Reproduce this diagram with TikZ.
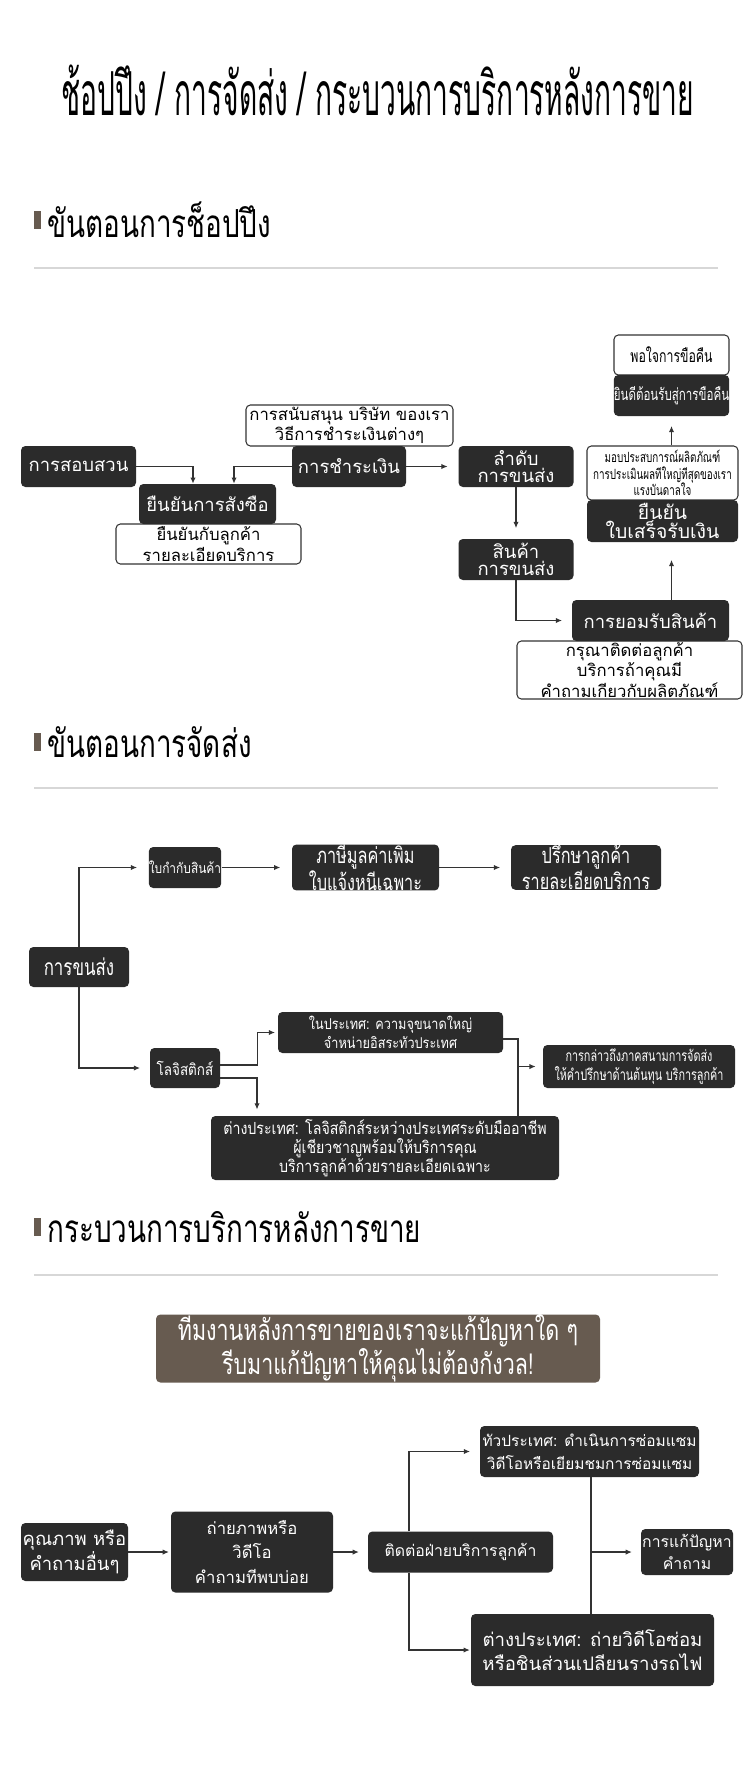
\documentclass[tikz,border=0pt]{standalone}
\usepackage{fontspec}
\usepackage{xcolor}
\usepackage{tikz}
\usetikzlibrary{arrows.meta,positioning,calc}
\newfontfamily\thai[Script=Thai]{Loma}
\newfontfamily\thaicn[Script=Thai,FakeStretch=0.85]{Loma}
\newfontfamily\thaitall[Script=Thai,FakeStretch=0.74]{Loma}
\newfontfamily\thainr[Script=Thai,FakeStretch=0.7]{Loma}
\newfontfamily\thaihead[Script=Thai,FakeStretch=0.72]{Loma}
\newfontfamily\thaititle[Script=Thai,FakeStretch=0.465]{Loma}
\newcommand{\fs}[2]{\fontsize{#1}{#2}\selectfont}
\definecolor{boxdark}{RGB}{43,43,43}
\definecolor{bannerbrown}{RGB}{103,91,80}
\definecolor{rulegray}{RGB}{215,215,215}
\definecolor{linedark}{RGB}{51,51,51}

\begin{document}
\begin{tikzpicture}[x=0.02cm, y=-0.02cm,
  darkbox/.style={fill=boxdark, text=white, rounded corners=2.5pt, align=center, inner sep=0pt},
  notebox/.style={draw=linedark, line width=0.6pt, fill=white, text=black, rounded corners=2.5pt, align=center, inner sep=0pt},
  wh/.style 2 args={minimum width=#1*0.02cm, minimum height=#2*0.02cm},
  arr/.style={-{Latex[length=3.5pt,width=3pt]}, draw=linedark, line width=0.6pt},
  link/.style={draw=linedark, line width=0.6pt},
  sechead/.style={anchor=west, inner sep=0pt, font=\thaihead\fs{22}{26}}]
  \useasboundingbox (0,0) rectangle (750,1780);
  \fill[white] (0,0) rectangle (750,1780);

  % ---- title ----
  \node[font=\thaititle\fs{34.5}{40}] (title) at (378,90) {ช้อปปึง / การจัดส่ง / กระบวนการบริการหลังการขาย};

  % ---- section 1: shopping steps ----
  \fill[bannerbrown] (34,211) rectangle (41,229);
  \node[sechead] (head1) at (47,220) {ขันตอนการช็อปปึง};
  \draw[rulegray, line width=0.8pt] (34,268) -- (718,268);

  \node[darkbox, wh={115}{41}, font=\thai\fs{10.5}{12}] (soubsuan) at (78.5,466.5) {การสอบสวน};
  \node[notebox, wh={185}{40}, font=\thai\fs{9.5}{9}] (yuenyannote) at (208.5,544) {ยืนยันกับลูกค้า\\รายละเอียดบริการ};
  \node[darkbox, wh={137}{40}, font=\thai\fs{10.5}{12}] (yuenyan) at (207.5,504) {ยืนยันการสังซือ};
  \node[notebox, wh={207}{41}, font=\thai\fs{9.5}{8}] (chamranote) at (349.5,425.5) {การสนับสนุน บริษัท ของเรา\\วิธีการชำระเงินต่างๆ};
  \node[darkbox, wh={114}{41}, font=\thai\fs{10.5}{12}] (chamra) at (349,466.5) {การชำระเงิน};
  \node[darkbox, wh={115}{41}, font=\thai\fs{10.5}{10}] (lamdap) at (516,466.5) {ลำดับ\\การขนส่ง};
  \node[darkbox, wh={115}{41}, font=\thai\fs{10.5}{10}] (sinka) at (516,559.5) {สินค้า\\การขนส่ง};
  \node[notebox, wh={225}{58}, font=\thai\fs{9.5}{8.5}] (yomrapnote) at (629.5,670) {กรุณาติดต่อลูกค้า\\บริการถ้าคุณมี\\คำถามเกียวกับผลิตภัณฑ์};
  \node[darkbox, wh={157}{41}, font=\thai\fs{10.5}{12}] (yomrap) at (650.5,620.5) {การยอมรับสินค้า};
  \node[notebox, wh={151}{54}, font=\thainr\fs{8}{9.6}] (bainote) at (662.5,473) {มอบประสบการณ์ผลิตภัณฑ์\\การประเมินผลทีใหญ่ทีสุดของเรา\\แรงบันดาลใจ};
  \node[darkbox, wh={151}{42}, font=\thai\fs{11}{8.5}] (bai) at (662.5,521) {ยืนยัน\\ใบเสร็จรับเงิน};
  \node[notebox, wh={115}{40}, font=\thainr\fs{10}{12}] (porjai) at (671.5,355) {พอใจการขือคืน};
  \node[darkbox, wh={115}{41}, font=\thainr\fs{9.4}{12}] (yindee) at (671.5,395.5) {ยินดีต้อนรับสู่การขือคืน};

  \draw[arr] (soubsuan.east) -| ($(yuenyan.north)+(-14.5,0)$);
  \draw[arr] (chamra.west) -| ($(yuenyan.north)+(26.5,0)$);
  \draw[arr, shorten >=6pt] (chamra) -- (lamdap);
  \draw[arr, shorten >=6pt] (lamdap) -- (sinka);
  \draw[arr, shorten >=5.5pt] (sinka.south) |- (yomrap.west);
  \draw[arr, shorten >=10pt] (yomrap.north -| yindee) -- (bai.south -| yindee);
  \draw[arr, shorten >=5.5pt] (bainote.north -| yindee) -- (yindee.south);

  % ---- section 2: delivery steps ----
  \fill[bannerbrown] (34,733) rectangle (41,751);
  \node[sechead] (head2) at (47,742) {ขันตอนการจัดส่ง};
  \draw[rulegray, line width=0.8pt] (34,788) -- (718,788);

  \node[darkbox, wh={70}{41}, font=\thaicn\fs{8}{10}] (kamkap) at (185,867.5) {ใบกำกับสินค้า};
  \node[darkbox, wh={147}{41}, font=\thaitall\fs{12.5}{10}] (phasi) at (365.5,867.5) {ภาษีมูลค่าเพิม\\ใบแจ้งหนีเฉพาะ};
  \node[darkbox, wh={150}{41}, font=\thaitall\fs{12.5}{10}] (preuksa) at (586,867.5) {ปรึกษาลูกค้า\\รายละเอียดบริการ};
  \node[darkbox, wh={100}{40}, font=\thaitall\fs{13}{14}] (khonsong) at (79,967) {การขนส่ง};
  \node[darkbox, wh={70}{40}, font=\thaicn\fs{9}{11}] (logistics) at (185,1068) {โลจิสติกส์};
  \node[darkbox, wh={225}{41}, font=\thaicn\fs{8.5}{11}] (naiprathet) at (390.5,1032.5) {ในประเทศ: ความจุขนาดใหญ่\\จำหน่ายอิสระทัวประเทศ};
  \node[darkbox, wh={348}{64}, font=\thaicn\fs{9.5}{11}] (tangprathet) at (385,1148) {ต่างประเทศ: โลจิสติกส์ระหว่างประเทศระดับมืออาชีพ\\ผู้เชียวชาญพร้อมให้บริการคุณ\\บริการลูกค้าด้วยรายละเอียดเฉพาะ};
  \node[darkbox, wh={192}{43}, font=\thainr\fs{8.8}{11}] (klao) at (639,1066.5) {การกล่าวถึงภาคสนามการจัดส่ง\\ให้คำปรึกษาด้านต้นทุน บริการลูกค้า};
  \coordinate (join2) at ($(tangprathet.north)+(133,0)$);

  \draw[arr, shorten >=6.5pt] (khonsong.north) |- (kamkap.west);
  \draw[arr, shorten >=5.5pt] (khonsong.south) |- (logistics.west);
  \draw[arr, shorten >=6.5pt] (kamkap) -- (phasi);
  \draw[arr, shorten >=6pt] (phasi) -- (preuksa);
  \draw[arr, shorten >=1.5pt] ($(logistics.east)+(0,-3)$) -- ++(37,0) |- (naiprathet.west);
  \draw[arr, shorten >=3.5pt] ($(logistics.east)+(0,10)$) -| ($(tangprathet.north)+(-128,0)$);
  \draw[link] ($(naiprathet.east)+(0,6.5)$) -| (join2);
  \draw[arr, shorten >=4pt] (klao.west -| join2) -- (klao.west);

  % ---- section 3: after-sales service ----
  \fill[bannerbrown] (34,1218) rectangle (41,1236);
  \node[sechead] (head3) at (47,1227) {กระบวนการบริการหลังการขาย};
  \draw[rulegray, line width=0.8pt] (34,1275) -- (718,1275);

  \node[fill=bannerbrown, text=white, rounded corners=2.5pt, inner sep=0pt, align=center, wh={444}{65}, font=\thaitall\fs{16.5}{15.5}] (banner) at (378,1348.5) {ทีมงานหลังการขายของเราจะแก้ปัญหาใด ๆ\\รีบมาแก้ปัญหาให้คุณไม่ต้องกังวล!};

  \node[darkbox, wh={107}{58}, font=\thai\fs{10.5}{12.5}] (khunnaphap) at (74.5,1552) {คุณภาพ หรือ\\คำถามอื่นๆ};
  \node[darkbox, wh={162}{81}, font=\thai\fs{9.5}{13.7}] (thaiphap) at (252,1552) {ถ่ายภาพหรือ\\วิดีโอ\\คำถามทีพบบ่อย};
  \node[darkbox, wh={185}{41}, font=\thai\fs{9}{11}] (tidtor) at (460.5,1552) {ติดต่อฝ่ายบริการลูกค้า};
  \node[darkbox, wh={219}{51}, font=\thai\fs{8.8}{13}] (thuaprathet) at (589.5,1451.5) {ทัวประเทศ: ดำเนินการซ่อมแซม\\วิดีโอหรือเยียมชมการซ่อมแซม};
  \node[darkbox, wh={243}{72}, font=\thai\fs{10.6}{13.5}] (tangprathettwo) at (592.5,1650) {ต่างประเทศ: ถ่ายวิดีโอซ่อม\\หรือชินส่วนเปลียนรางรถไฟ};
  \node[darkbox, wh={92}{46}, font=\thai\fs{9}{12.5}] (kaekhai) at (687,1552) {การแก้ปัญหา\\คำถาม};
  \coordinate (join3) at (591,1552);

  \draw[arr, shorten >=1pt] (khunnaphap) -- (thaiphap);
  \draw[arr, shorten >=5pt] (thaiphap) -- (tidtor);
  \draw[arr, shorten >=5.5pt] ($(tidtor.north)+(-51.5,0)$) |- (thuaprathet.west);
  \draw[arr, shorten >=0.5pt] ($(tidtor.south)+(-51.5,0)$) |- (tangprathettwo.west);
  \draw[link] (thuaprathet.south -| join3) -- (tangprathettwo.north -| join3);
  \draw[arr, shorten >=5pt] (join3) -- (kaekhai.west);
\end{tikzpicture}
\end{document}
